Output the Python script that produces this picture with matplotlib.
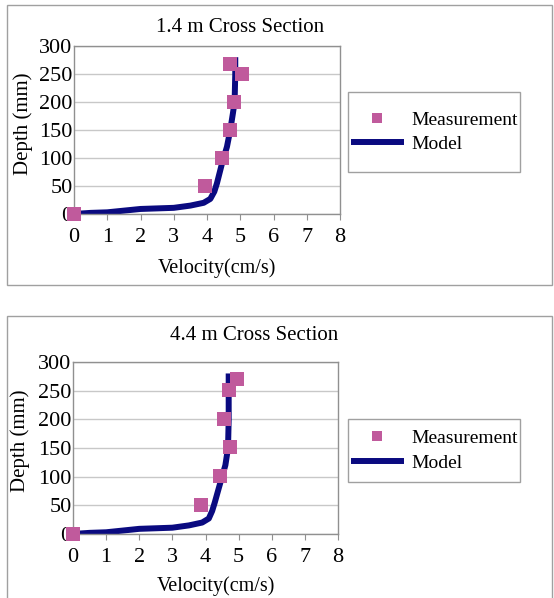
import matplotlib
matplotlib.use("Agg")
import matplotlib.pyplot as plt
from matplotlib.patches import Rectangle

# ---- data ----
titles = ["1.4 m Cross Section", "4.4 m Cross Section"]

meas_v_top = [0.0, 3.95, 4.45, 4.7, 4.8, 5.05, 4.7]
meas_d_top = [0, 50, 100, 150, 200, 250, 268]
model_v_top = [0.0, 0.5, 1.0, 1.5, 2.0, 2.5, 3.0, 3.5, 3.9, 4.1, 4.22, 4.3, 4.45, 4.6, 4.7, 4.78, 4.83, 4.85, 4.85]
model_d_top = [0, 2, 3, 6, 9, 10, 11, 15, 20, 27, 40, 55, 90, 120, 150, 180, 200, 250, 280]

meas_v_bot = [0.0, 3.85, 4.45, 4.75, 4.55, 4.72, 4.95]
meas_d_bot = [0, 50, 101, 151, 201, 252, 270]
model_v_bot = [0.0, 0.5, 1.0, 1.5, 2.0, 2.5, 3.0, 3.5, 3.9, 4.1, 4.2, 4.28, 4.45, 4.6, 4.68, 4.7, 4.7, 4.7]
model_d_bot = [0, 2, 3, 6, 9, 10, 11, 15, 20, 27, 40, 55, 90, 120, 150, 200, 250, 280]

xticks = [0, 1, 2, 3, 4, 5, 6, 7, 8]
yticks = [0, 50, 100, 150, 200, 250, 300]

W, H = 554, 598
plt.rcParams['font.family'] = ['Liberation Serif', 'DejaVu Serif']
fig = plt.figure(figsize=(W / 100, H / 100), dpi=100)

def px_rect(x0, y0, x1, y1):
    return [x0 / W, 1 - y1 / H, (x1 - x0) / W, (y1 - y0) / H]

marker_color = '#C05A9C'
line_color = '#0A0A80'
edge = '#A0A0A0'

panels = [
    dict(box=(7, 5, 552, 285), ax=(74, 46, 340, 214), leg=(348, 92, 520, 172),
         title_xy=(240, 27), xlab=(0.538, -0.262), ylab=(-0.154, 0.536),
         mv=meas_v_top, md=meas_d_top, lv=model_v_top, ld=model_d_top, title=titles[0]),
    dict(box=(7, 316, 552, 603), ax=(73, 362, 338, 534), leg=(348, 419, 520, 482),
         title_xy=(254, 336), xlab=(0.538, -0.244), ylab=(-0.162, 0.54),
         mv=meas_v_bot, md=meas_d_bot, lv=model_v_bot, ld=model_d_bot, title=titles[1]),
]

for p in panels:
    bx0, by0, bx1, by1 = p['box']
    fig.patches.append(Rectangle((bx0 / W, 1 - by1 / H), (bx1 - bx0) / W, (by1 - by0) / H,
                                 transform=fig.transFigure, fill=False, edgecolor=edge, lw=1.0))
    ax = fig.add_axes(px_rect(*p['ax']))
    ax.plot(p['lv'], p['ld'], color=line_color, lw=4.3, solid_capstyle='butt', label='Model', zorder=2)
    ax.plot(p['mv'], p['md'], linestyle='none', marker='s', markersize=10, color=marker_color,
            markeredgewidth=0, label='Measurement', zorder=3, clip_on=False)
    ax.set_xlim(0, 8)
    ax.set_ylim(0, 300)
    ax.set_xticks(xticks)
    ax.set_yticks(yticks)
    ax.yaxis.grid(True, color='#C8C8C8', lw=1.0)
    ax.set_axisbelow(True)
    for s in ax.spines.values():
        s.set_color('#909090')
        s.set_linewidth(1.0)
    ax.tick_params(axis='both', labelsize=16, color='#909090')
    ax.tick_params(axis='x', length=4, pad=6)
    ax.tick_params(axis='y', length=0, pad=1)
    ax.set_xlabel('Velocity(cm/s)', fontsize=14.5)
    ax.set_ylabel('Depth (mm)', fontsize=15)
    ax.xaxis.set_label_coords(*p['xlab'])
    ax.yaxis.set_label_coords(*p['ylab'])
    fig.text(p['title_xy'][0] / W, 1 - p['title_xy'][1] / H, p['title'],
             ha='center', va='center', fontsize=15)
    # legend frame
    lx0, ly0, lx1, ly1 = p['leg']
    fig.patches.append(Rectangle((lx0 / W, 1 - ly1 / H), (lx1 - lx0) / W, (ly1 - ly0) / H,
                                 transform=fig.transFigure, fill=False, edgecolor=edge, lw=1.0))
    handles, labels = ax.get_legend_handles_labels()
    order = [1, 0]
    leg = ax.legend([handles[i] for i in order], [labels[i] for i in order],
                    loc='center left', bbox_to_anchor=((lx0 + 3) / W, 1 - (ly0 + ly1) / 2 / H),
                    bbox_transform=fig.transFigure, fontsize=14, frameon=False,
                    handlelength=2.7, handletextpad=0.4, borderpad=0.0, borderaxespad=0,
                    labelspacing=0.35, markerscale=0.65)

fig.savefig('out.png', dpi=100)
